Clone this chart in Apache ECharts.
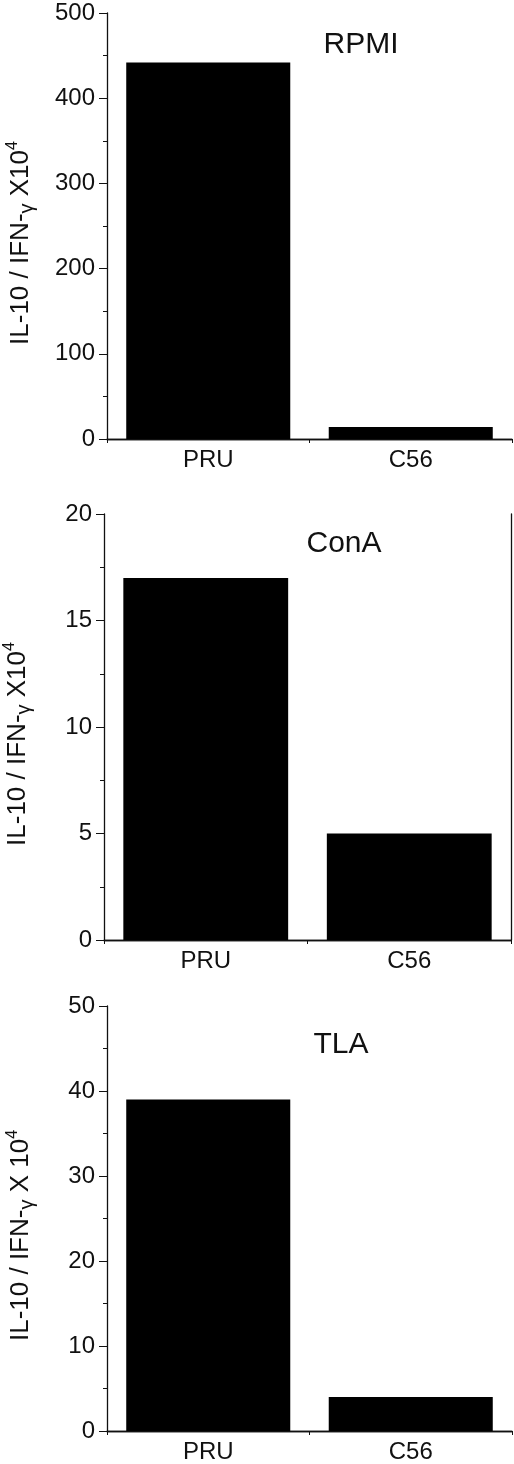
<!DOCTYPE html>
<html>
<head>
<meta charset="utf-8">
<script src="https://cdn.jsdelivr.net/npm/echarts@6/dist/echarts.min.js"></script>
<style>
  html, body { margin: 0; padding: 0; background: #fff; }
  #main { width: 514px; height: 1464px; }
</style>
</head>
<body>
<div id="main"></div>
<script>
// data
var categories = ['PRU', 'C56'];
var panelTitles = ['RPMI', 'ConA', 'TLA'];
var rpmiValues = [442, 14];
var conaValues = [17, 5];
var tlaValues = [39, 4];
var yMax = [500, 20, 50];
var yStep = [100, 5, 10];
var yNames = [
    '{n|IL-10 / IFN-}{g|γ}{n| X10}{s|4}',
    '{n|IL-10 / IFN-}{g|γ}{n| X10}{s|4}',
    '{n|IL-10 / IFN-}{g|γ}{n| X 10}{s|4}'
];

var FONT = '"Liberation Sans", Arial, sans-serif';
var INK = '#111';

// layout of the three panels
var grids = [
    { left: 107, top: 13, right: 2, height: 426, outerBoundsMode: 'none' },
    { left: 104, top: 514, right: 3, height: 426, outerBoundsMode: 'none' },
    { left: 107, top: 1006, right: 2, height: 425, outerBoundsMode: 'none' }
];
var titlePos = [
    { x: 361, y: 45 },
    { x: 344, y: 544 },
    { x: 341, y: 1045 }
];

var allValues = [rpmiValues, conaValues, tlaValues];

var option = {
    animation: false,
    backgroundColor: '#fff',
    textStyle: { fontFamily: FONT },
    grid: [],
    xAxis: [],
    yAxis: [],
    series: [],
    graphic: []
};

for (var i = 0; i < 3; i++) {
    option.grid.push(grids[i]);

    // bottom category axis
    option.xAxis.push({
        type: 'category',
        gridIndex: i,
        data: categories,
        axisLine: { lineStyle: { color: INK, width: 1.3 } },
        axisTick: {
            show: true,
            length: 4,
            lineStyle: { color: INK },
            interval: 0
        },
        axisLabel: { color: INK, fontSize: 24, margin: 9, fontFamily: FONT },
        splitLine: { show: false }
    });
    // top frame line
    option.xAxis.push({
        type: 'category',
        gridIndex: i,
        position: 'top',
        data: categories,
        axisLine: { lineStyle: { color: INK, width: 1.3 } },
        axisTick: { show: false },
        axisLabel: { show: false },
        splitLine: { show: false }
    });

    option.yAxis.push({
        type: 'value',
        gridIndex: i,
        min: 0,
        max: yMax[i],
        interval: yStep[i],
        name: yNames[i],
        nameLocation: 'middle',
        nameGap: 70,
        nameRotate: 90,
        nameTextStyle: {
            color: INK,
            fontFamily: FONT,
            padding: [0, 34, 0, 0],
            rich: {
                n: { fontSize: 26, lineHeight: 32, verticalAlign: 'middle', color: INK, fontFamily: FONT },
                g: { fontSize: 20, lineHeight: 32, verticalAlign: 'bottom', color: INK, fontFamily: FONT },
                s: { fontSize: 16, lineHeight: 16, verticalAlign: 'top', color: INK, fontFamily: FONT }
            }
        },
        axisLine: { show: true, lineStyle: { color: INK, width: 1.3 } },
        axisTick: { show: true, length: 8, lineStyle: { color: INK } },
        minorTick: { show: true, splitNumber: 2, length: 4, lineStyle: { color: INK } },
        axisLabel: { color: INK, fontSize: 24, margin: 12, fontFamily: FONT },
        splitLine: { show: false }
    });
    // right frame line (only visible on the middle panel)
    option.yAxis.push({
        type: 'value',
        gridIndex: i,
        position: 'right',
        min: 0,
        max: yMax[i],
        axisLine: { show: i === 1, lineStyle: { color: INK, width: 1.3 } },
        axisTick: { show: false },
        axisLabel: { show: false },
        splitLine: { show: false }
    });

    option.series.push({
        type: 'bar',
        xAxisIndex: i * 2,
        yAxisIndex: i * 2,
        data: allValues[i],
        barCategoryGap: '19%',
        itemStyle: { color: '#000' }
    });

    option.graphic.push({
        type: 'text',
        x: titlePos[i].x,
        y: titlePos[i].y,
        style: {
            text: panelTitles[i],
            fill: INK,
            font: '30px ' + FONT,
            textAlign: 'center',
            textVerticalAlign: 'middle'
        }
    });
}

var chart = echarts.init(document.getElementById('main'), null, { renderer: 'canvas' });
chart.setOption(option);
</script>
</body>
</html>
